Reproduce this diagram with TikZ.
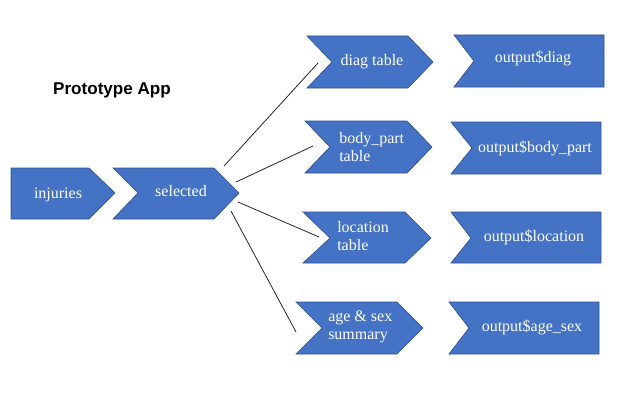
\documentclass[tikz,border=0pt]{standalone}
\usepackage{fontspec}
\setmainfont{Liberation Serif}
\newfontfamily\arialfont{Liberation Sans}
\definecolor{boxblue}{HTML}{4472C4}
\definecolor{boxedge}{HTML}{2F528F}

\begin{document}
\begin{tikzpicture}[x=0.75pt,y=-0.75pt,
    box/.style={fill=boxblue,draw=boxedge,line width=0.5pt},
    txt/.style={text=white,font=\fontsize{12}{13.5}\selectfont,align=left,inner sep=0pt},
    link/.style={draw=black!85,line width=0.6pt}]
\useasboundingbox (0,0) rectangle (623,403);

% title
\node[anchor=base,inner sep=0pt,font=\arialfont\bfseries\fontsize{12.8}{15}\selectfont] (title) at (112,94) {Prototype App};

% arrows
\draw[box] (11,168)--(89,168)--(115,193)--(89,219)--(11,219)--cycle;
\draw[box] (113,168)--(214,168)--(239,193)--(214,219)--(113,219)--(138,193)--cycle;
\draw[box] (307,36)--(408,36)--(433,62)--(408,88)--(307,88)--(332,62)--cycle;
\draw[box] (305,121)--(407,121)--(432,147)--(407,173)--(305,173)--(330,147)--cycle;
\draw[box] (303,212)--(405,212)--(431,238)--(405,263)--(303,263)--(330,238)--cycle;
\draw[box] (296,302)--(397,302)--(423,328)--(397,354)--(296,354)--(322,328)--cycle;
\draw[box] (454,35)--(604,35)--(604,87)--(454,87)--(474,61)--cycle;
\draw[box] (451,122)--(601,122)--(601,174)--(451,174)--(472,148)--cycle;
\draw[box] (451,212)--(601,212)--(601,263)--(451,263)--(471,238)--cycle;
\draw[box] (449,302)--(599,302)--(599,354)--(449,354)--(469,328)--cycle;

% labels
\node[txt,anchor=base] (inj) at (58,198) {injuries};
\node[txt,anchor=base] (sel) at (181,196) {selected};
\node[txt,anchor=base] (diag) at (372,65) {diag table};
\node[txt,anchor=west] (body) at (339,147.5) {body\_part\\table};
\node[txt,anchor=west] (loc) at (337,236.5) {location\\table};
\node[txt,anchor=west] (age) at (328,327) {age \& sex\\summary};
\node[txt,anchor=base] (odiag) at (533,63) {output\$diag};
\node[txt,anchor=base] (obody) at (535,152) {output\$body\_part};
\node[txt,anchor=base] (oloc) at (534,241) {output\$location};
\node[txt,anchor=base] (oage) at (532,331) {output\$age\_sex};

% links
\coordinate (s1) at (224,166);
\coordinate (s2) at (236,182);
\coordinate (s3) at (238,202);
\coordinate (s4) at (231,211);
\coordinate (t1) at (318,63);
\coordinate (t2) at (313,146);
\coordinate (t3) at (319,237);
\coordinate (t4) at (296,332);
\draw[link] (s1)--(t1);
\draw[link] (s2)--(t2);
\draw[link] (s3)--(t3);
\draw[link] (s4)--(t4);
\end{tikzpicture}
\end{document}
